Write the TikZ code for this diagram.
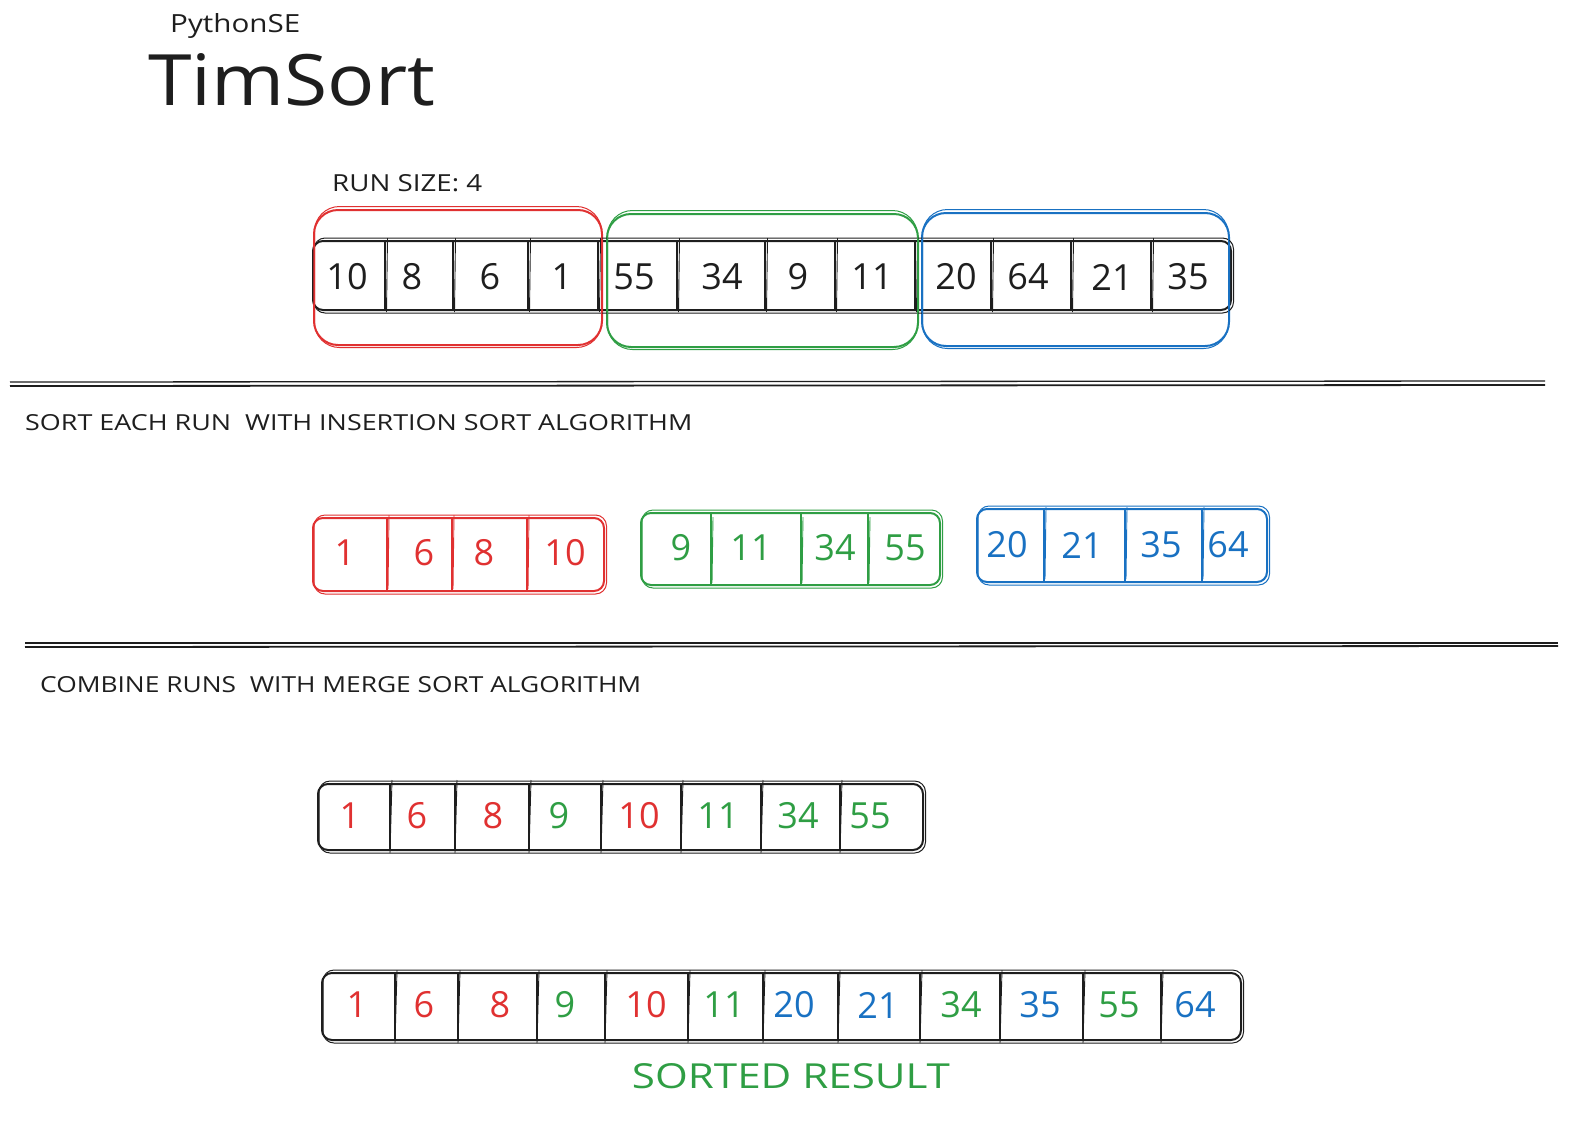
\documentclass[tikz,border=0pt]{standalone}
\usepackage{fontspec}
\usepackage{graphicx}
\setmainfont{Open Sans}
\definecolor{xred}{HTML}{E03131}
\definecolor{xgreen}{HTML}{2F9E44}
\definecolor{xblue}{HTML}{1971C2}
\definecolor{ink}{HTML}{1E1E1E}
\tikzset{
  arr/.style={draw=ink, line width=2pt, rounded corners=10pt, inner sep=0pt},
  runbox/.style={line width=2pt, rounded corners=24pt, inner sep=0pt},
  num/.style={font=\fontsize{36}{36}\selectfont, inner sep=0pt, anchor=center},
  lbl/.style={font=\fontsize{20}{20}\selectfont, anchor=west, inner sep=0pt, text=ink},
  celldiv/.style={line width=1.8pt},
  celldivb/.style={line width=0.9pt},
  sepline/.style={draw=ink, line width=1.3pt},
  ghost/.style={line width=1pt},
}
\begin{document}
\begin{tikzpicture}[x=1pt,y=-1pt]
\useasboundingbox (0,0) rectangle (1596,1130);

% titles
\node[lbl] (brand) at (170,26) {\resizebox{130pt}{19pt}{PythonSE}};
\node[lbl] (title) at (148,80) {\resizebox{287pt}{52pt}{TimSort}};
\node[lbl] (runsize) at (332,183) {\resizebox{150pt}{17pt}{RUN SIZE: 4}};

% ---------- row 1 ----------
\node[arr, minimum width=918pt, minimum height=69pt] (arrA) at (772,275.5) {};
\foreach \x in {385,453,528,598,677,765,835,915,991,1071,1151}{
  \draw[celldiv, ink] (\x,241) -- (\x,310);
  \draw[celldivb, ink] (\x+2.5,238) -- (\x+1.5,312);}
\foreach \x/\v [count=\i] in {347/10,412/8,490/6,562/1,634/55,722/34,798/9,872/11,956/20,1028/64,1112/21,1188/35}
  \node[num, text=ink] (a\i) at (\x,277) {\v};
\node[runbox, draw=xred, minimum width=288pt, minimum height=135pt] (runR) at (458,277.5) {};
\node[runbox, draw=xgreen, minimum width=311pt, minimum height=133pt] (runG) at (762.5,280.5) {};
\node[runbox, draw=xblue, minimum width=307pt, minimum height=133pt] (runB) at (1075.5,279.5) {};

% separator 1
\coordinate (s1a) at (10,382); \coordinate (s1b) at (1545,381);
\coordinate (s1c) at (10,386); \coordinate (s1d) at (1545,385);
\draw[sepline] (s1a) -- (s1b);
\draw[sepline, line width=1.8pt] (s1c) -- (s1d);
\node[lbl] (step1) at (25,423) {\resizebox{667pt}{16pt}{SORT EACH RUN\ \ WITH INSERTION SORT ALGORITHM}};

% ---------- row 2 ----------
\node[arr, draw=xred, minimum width=291pt, minimum height=73pt] (sR) at (458.5,554.5) {};
\foreach \x in {387,452,527}{\draw[celldiv, xred] (\x,518) -- (\x,591); \draw[celldivb, xred] (\x+2,515) -- (\x+1,589);}
\foreach \x/\v [count=\i] in {345/1,424/6,484/8,565/10}
  \node[num, text=xred] (r\i) at (\x,553) {\v};

\node[arr, draw=xgreen, minimum width=299pt, minimum height=72pt] (sG) at (790.5,549) {};
\foreach \x in {711,801,868}{\draw[celldiv, xgreen] (\x,513) -- (\x,585); \draw[celldivb, xgreen] (\x+2,517) -- (\x+1,583);}
\foreach \x/\v [count=\i] in {681/9,751/11,835/34,905/55}
  \node[num, text=xgreen] (g\i) at (\x,548) {\v};

\node[arr, draw=xblue, minimum width=290pt, minimum height=73pt] (sB) at (1122,545.5) {};
\foreach \x in {1044,1125,1202}{\draw[celldiv, xblue] (\x,509) -- (\x,582); \draw[celldivb, xblue] (\x+2,507) -- (\x+1,579);}
\foreach \x/\v [count=\i] in {1007/20,1082/21,1161/35,1228/64}
  \node[num, text=xblue] (b\i) at (\x,545) {\v};

% separator 2
\coordinate (s2a) at (25,643); \coordinate (s2b) at (1558,643);
\coordinate (s2c) at (25,647); \coordinate (s2d) at (1558,646);
\draw[sepline] (s2a) -- (s2b);
\draw[sepline, line width=1.8pt] (s2c) -- (s2d);
\node[lbl] (step2) at (40,685) {\resizebox{601pt}{16pt}{COMBINE RUNS\ \ WITH MERGE SORT ALGORITHM}};

% ---------- row 3 ----------
\node[arr, minimum width=605pt, minimum height=66pt] (m1) at (620.5,817) {};
\foreach \x in {390,455,529,601,681,761,840}{\draw[celldiv, ink] (\x,784) -- (\x,850); \draw[celldivb, ink] (\x+2,780) -- (\x,853);}
\foreach \x/\v/\c [count=\i] in {350/1/xred,417/6/xred,493/8/xred,559/9/xgreen,639/10/xred,718/11/xgreen,798/34/xgreen,870/55/xgreen}
  \node[num, text=\c] (m\i n) at (\x,816) {\v};

% ---------- row 4 ----------
\node[arr, minimum width=919pt, minimum height=67pt] (fin) at (781.5,1006.5) {};
\foreach \x in {395,458,537,605,688,763,838,920,1000,1083,1161}{\draw[celldiv, ink] (\x,973) -- (\x,1040); \draw[celldivb, ink] (\x+2,970) -- (\x,1043);}
\foreach \x/\v/\c [count=\i] in {357/1/xred,424/6/xred,500/8/xred,565/9/xgreen,646/10/xred,724/11/xgreen,794/20/xblue,878/21/xblue,961/34/xgreen,1040/35/xblue,1119/55/xgreen,1195/64/xblue}
  \node[num, text=\c] (f\i) at (\x,1005) {\v};

% second sketch strokes on the boxes
\foreach \n/\c in {arrA/ink,sR/xred,sG/xgreen,sB/xblue,m1/ink,fin/ink}
  \draw[ghost, draw=\c, rounded corners=11pt] ([shift={(2,-2)}]\n.north west) rectangle ([shift={(1.5,2)}]\n.south east);
\foreach \n/\c in {runR/xred,runG/xgreen,runB/xblue}
  \draw[ghost, draw=\c, rounded corners=25pt] ([shift={(1.5,-2.5)}]\n.north west) rectangle ([shift={(-1.5,1.5)}]\n.south east);

\node[lbl, anchor=center, text=xgreen] (result) at (791,1076) {\resizebox{318pt}{25pt}{SORTED RESULT}};
\end{tikzpicture}
\end{document}
